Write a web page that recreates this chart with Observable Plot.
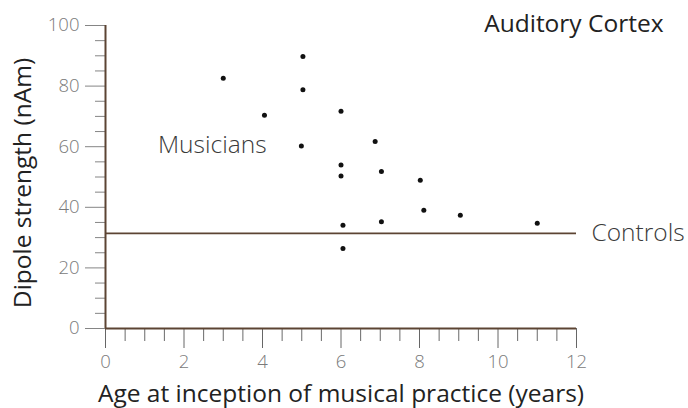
<!DOCTYPE html>
<html>
<head>
<meta charset="utf-8">
<script src="https://cdn.jsdelivr.net/npm/d3@7"></script>
<script src="https://cdn.jsdelivr.net/npm/@observablehq/plot@0.6"></script>
<style>
  html, body { margin: 0; padding: 0; background: #fff; }
  #chart { width: 688px; height: 408px; }
</style>
</head>
<body>
<div id="chart"></div>
<script>
// Data: age at inception of musical practice (years) vs dipole strength (nAm)
const ages      = [3.0, 4.05, 5.03, 5.03, 4.99, 6.0, 6.0, 6.0, 6.87, 7.03, 8.02, 6.05, 6.05, 7.03, 8.11, 9.04, 11.0];
const strengths = [82.6, 70.4, 89.8, 78.8, 60.2, 71.7, 54.0, 50.3, 61.7, 51.8, 48.9, 34.1, 26.4, 35.2, 39.0, 37.4, 34.7];
const controlsLevel = 31.4;

const xMajorTicks = [0, 2, 4, 6, 8, 10, 12];
const xMinorTicks = [0.5, 1, 1.5, 2.5, 3, 3.5, 4.5, 5, 5.5, 6.5, 7, 7.5, 8.5, 9, 9.5, 10.5, 11, 11.5];
const yMajorTicks = [0, 20, 40, 60, 80, 100];
const yMinorTicks = [5, 10, 15, 25, 30, 35, 45, 50, 55, 65, 70, 75, 85, 90, 95];

const xTitle = "Age at inception of musical practice (years)";
const yTitle = "Dipole strength (nAm)";
const chartTitle = "Auditory Cortex";
const musiciansLabel = {text: "Musicians", x: 2.72, y: 60.5};
const controlsLabel = "Controls";

const points = ages.map((a, i) => ({age: a, strength: strengths[i]}));

const brown = "#5c4433";
const tickGray = "#858585";
const labelGray = "#7a7a7a";

const chart = Plot.plot({
  width: 688,
  height: 408,
  marginLeft: 105,
  marginRight: 112,
  marginTop: 25,
  marginBottom: 80,
  style: {fontFamily: "'Open Sans', sans-serif", background: "#fff", overflow: "visible"},
  x: {type: "linear", domain: [0, 12]},
  y: {type: "linear", domain: [0, 100]},
  marks: [
    // minor ticks
    Plot.axisX({ticks: xMinorTicks, tickSize: 13, tickFormat: null, text: null, stroke: "#6a6a6a", label: null}),
    Plot.axisY({ticks: yMinorTicks, tickSize: 10, tickFormat: null, text: null, stroke: tickGray, label: null}),
    // major ticks
    Plot.axisX({ticks: xMajorTicks, tickSize: 20, text: null, stroke: "#666", label: null}),
    Plot.axisY({ticks: yMajorTicks, tickSize: 20, text: null, stroke: tickGray, label: null}),
    // tick labels
    Plot.text(xMajorTicks, {x: d => d, text: d => String(d), frameAnchor: "bottom", dy: 26, lineAnchor: "top",
      fontSize: 18.5, fontWeight: 300, fill: labelGray}),
    Plot.text(yMajorTicks, {y: d => d, text: d => String(d), frameAnchor: "left", dx: -26, textAnchor: "end",
      fontSize: 18.5, fontWeight: 300, fill: labelGray}),
    // axis lines
    Plot.ruleX([0], {y1: 0, y2: 100, stroke: brown, strokeWidth: 2}),
    Plot.ruleY([0], {x1: 0, x2: 12, stroke: brown, strokeWidth: 2}),
    // controls level
    Plot.ruleY([controlsLevel], {x1: 0, x2: 12, stroke: brown, strokeWidth: 1.6}),
    Plot.text([controlsLabel], {x: 12, y: controlsLevel, dx: 15, textAnchor: "start",
      fontSize: 24.5, fontWeight: 300, fill: "#3a3a3a"}),
    // musicians
    Plot.dot(points, {x: "age", y: "strength", r: 2.5, fill: "#111", stroke: null}),
    Plot.text([musiciansLabel], {x: "x", y: "y", text: "text", fontSize: 24.5, fontWeight: 300, fill: "#3a3a3a"}),
    // titles
    Plot.text([chartTitle], {frameAnchor: "top-right", dx: 87, dy: -1, lineAnchor: "middle", textAnchor: "end",
      fontSize: 24.5, fill: "#222"}),
    Plot.text([xTitle], {frameAnchor: "bottom", dy: 66, lineAnchor: "middle", fontSize: 24.5, fill: "#222"}),
    Plot.text([yTitle], {frameAnchor: "left", dx: -82, dy: 6, rotate: -90, textAnchor: "middle",
      lineAnchor: "middle", fontSize: 24.5, fill: "#222"})
  ]
});
document.getElementById("chart").appendChild(chart);
</script>
</body>
</html>
